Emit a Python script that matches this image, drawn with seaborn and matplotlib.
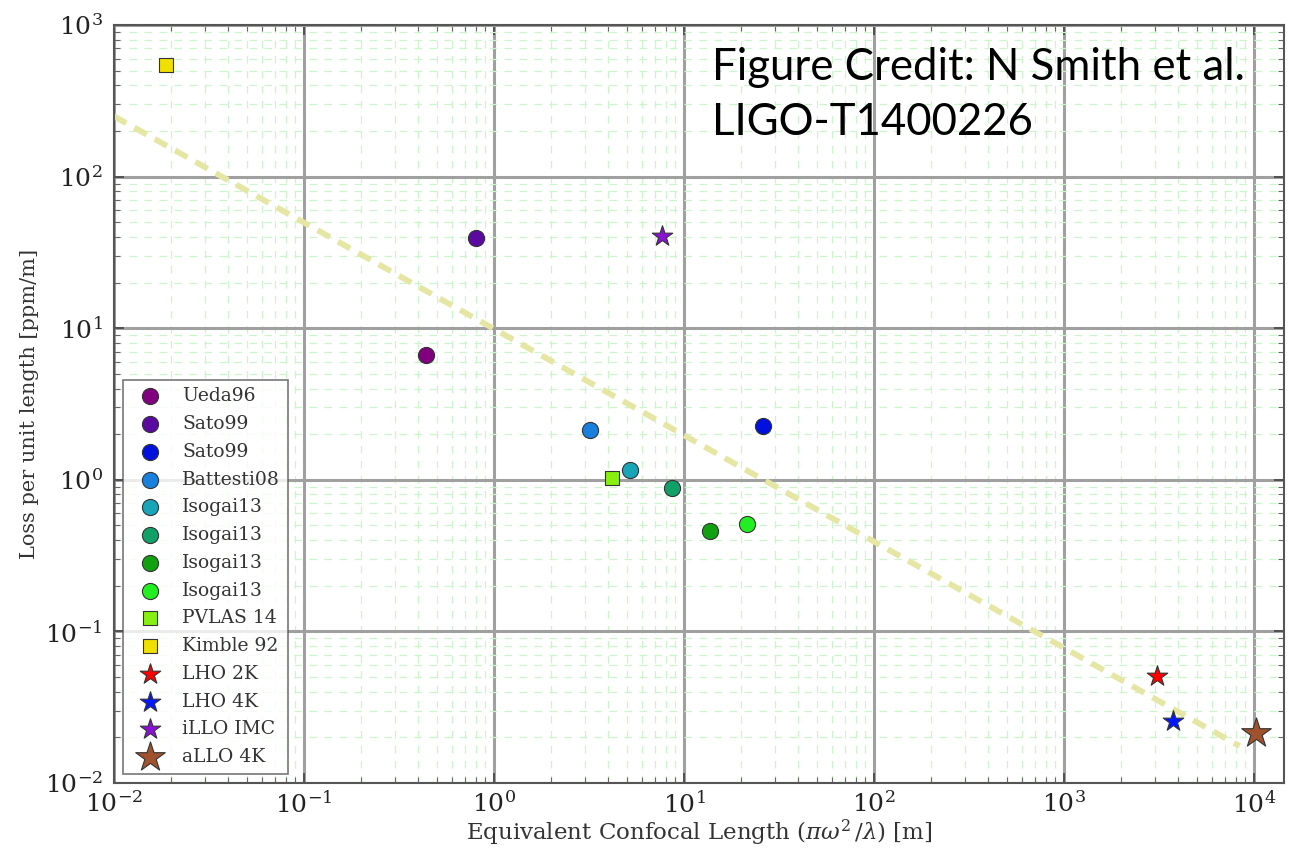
import matplotlib
matplotlib.use("Agg")
import matplotlib.pyplot as plt
import seaborn as sns
import numpy as np
from matplotlib.ticker import LogLocator, NullFormatter, FixedLocator

sns.set_theme(style="white")
plt.rcParams['font.family'] = ['DejaVu Serif']
plt.rcParams['mathtext.fontset'] = 'dejavuserif'

# ---- data ----
labels = ["Ueda96", "Sato99", "Sato99", "Battesti08", "Isogai13", "Isogai13",
          "Isogai13", "Isogai13", "PVLAS 14", "Kimble 92", "LHO 2K", "LHO 4K",
          "iLLO IMC", "aLLO 4K"]
x_vals = [0.44, 0.80, 26.0, 3.2, 5.2, 8.65, 13.7, 21.5, 4.18, 0.0188,
          3085.0, 3750.0, 7.66, 10230.0]
y_vals = [6.65, 39.4, 2.27, 2.13, 1.16, 0.88, 0.46, 0.51, 1.03, 545.0,
          0.0508, 0.0257, 40.5, 0.0214]
colors = ["#800080", "#5a0aa0", "#0010dd", "#1a80dd", "#18a5b8", "#10a068",
          "#10a010", "#22ee22", "#88f010", "#f0e000", "#ff0000", "#0018ff",
          "#8c10d8", "#a0522d"]
markers = ["o", "o", "o", "o", "o", "o", "o", "o", "s", "s", "*", "*", "*", "*"]
sizes = [135, 135, 135, 135, 135, 135, 135, 135, 115, 115, 240, 240, 240, 500]

x_decades = [1e-2, 1e-1, 1e0, 1e1, 1e2, 1e3, 1e4]
y_decades = [1e-2, 1e-1, 1e0, 1e1, 1e2, 1e3]

trend_x = [0.01, 8400.0]
trend_y = [250.0, 0.0175]

fig = plt.figure(figsize=(12.89, 8.49), dpi=100)
ax = fig.add_axes([114/1289, 1-783/849, 1170/1289, 758/849])

sns.lineplot(x=trend_x, y=trend_y, ax=ax, color="#e6e6a4", linewidth=4.2,
             zorder=2)
ax.lines[-1].set_dashes((2.4, 1.6))

for lab, xv, yv, c, m, s in zip(labels, x_vals, y_vals, colors, markers, sizes):
    sns.scatterplot(x=[xv], y=[yv], ax=ax, color=c, marker=m, s=s,
                    edgecolor="#333333", linewidth=0.8, label=lab, zorder=5)

ax.set_xscale("log")
ax.set_yscale("log")
ax.set_xlim(0.01, 10**4.158)
ax.set_ylim(0.01, 1000)

ax.xaxis.set_major_locator(FixedLocator(x_decades))
ax.yaxis.set_major_locator(FixedLocator(y_decades))
ax.xaxis.set_minor_locator(LogLocator(base=10, subs=np.arange(2, 10), numticks=50))
ax.yaxis.set_minor_locator(LogLocator(base=10, subs=np.arange(2, 10), numticks=50))
ax.xaxis.set_minor_formatter(NullFormatter())
ax.yaxis.set_minor_formatter(NullFormatter())

ax.grid(which="major", color="#a0a0a0", linewidth=2.2, linestyle="-", zorder=1)
ax.grid(which="minor", color="#cdf5cd", linewidth=0.9, linestyle=(0, (6, 6)), zorder=0)
ax.set_axisbelow(True)

ax.tick_params(which="both", direction="in", top=True, right=True,
               bottom=True, left=True)
ax.tick_params(which="major", length=7, width=1.2, colors="#444444",
               labelsize=18, labelcolor="#222222")
ax.tick_params(axis="y", which="major", pad=8)
ax.tick_params(axis="x", which="major", pad=6)
ax.tick_params(which="minor", length=4, width=0.8, colors="#666666")

for sp in ax.spines.values():
    sp.set_color("#555555")
    sp.set_linewidth(1.5)

ax.set_xlabel(r"Equivalent Confocal Length ($\pi\omega^2\,/\lambda$) [m]",
              fontsize=16.5, color="#333333")
ax.xaxis.set_label_coords(0.5, (783 - 818) / 758)
ax.set_ylabel("Loss per unit length [ppm/m]", fontsize=15, color="#333333",
              labelpad=4)

leg = ax.legend(loc="lower left", fontsize=13.5, frameon=True, fancybox=False,
                edgecolor="#555555", borderpad=0.4, labelspacing=0.52,
                handletextpad=0.75, borderaxespad=0.5, scatterpoints=1)
leg.get_frame().set_linewidth(1.2)
for t in leg.get_texts():
    t.set_color("#333333")

fig.text(712/1289, 1-47/849, "Figure Credit: N Smith et al.\nLIGO-T1400226",
         family=["Lato", "DejaVu Sans"], fontsize=31.5, va="top", ha="left",
         color="black", linespacing=1.42)

fig.savefig("out.png", dpi=100)
